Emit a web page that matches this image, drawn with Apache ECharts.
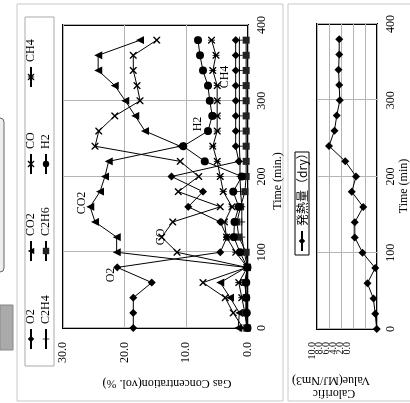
<!DOCTYPE html>
<html><head><meta charset="utf-8">
<script src="https://cdn.jsdelivr.net/npm/echarts@6/dist/echarts.min.js"></script>
<style>
html,body{margin:0;padding:0;width:410px;height:403px;overflow:hidden;background:#fff;}
#chart{position:absolute;left:0;top:0;width:403px;height:410px;transform-origin:0 0;transform:translate(0,403px) rotate(-90deg);}
</style></head><body><div id="chart"></div>
<script>
const times = [0,20,40,60,80,100,120,140,160,180,200,220,240,260,280,300,320,340,360,380];
const o2   = [18.6,18.6,18.6,15.6,21.2,4.5,3.4,4.5,9.7,7.3,12.4,1.5,2.0,2.0,2.0,2.0,2.0,2.0,2.0,2.0];
const co2  = [1.6,1.4,2.9,4.5,0.3,21.3,21.3,24.8,25.6,24.0,23.2,22.6,11.0,16.7,18.3,19.9,21.6,24.3,24.3,17.5];
const co   = [0.8,2.4,3.7,7.3,0.2,11.5,14.0,12.2,4.5,11.3,8.0,11.0,24.8,24.2,21.6,17.5,18.0,18.6,18.6,14.8];
const ch4  = [0.2,0.5,1.0,1.5,0.1,2.0,3.5,3.8,2.6,4.0,4.5,5.0,5.7,5.0,5.0,5.0,5.0,5.7,5.2,5.9];
const c2h4 = [0.1,0.2,0.3,0.5,0.1,0.6,1.0,1.0,1.0,1.2,1.3,1.3,1.4,1.4,1.4,1.4,1.4,1.4,1.4,1.4];
const c2h6 = [0.1,0.4,0.3,0.5,0.1,0.3,1.5,1.8,1.2,0.5,0.3,0.3,0.3,0.3,0.3,0.3,0.3,0.3,0.3,0.3];
const h2   = [0.1,0.2,0.3,0.3,0.1,1.3,2.3,2.2,1.5,2.4,1.0,7.0,10.5,6.5,5.8,6.2,6.5,7.3,7.8,8.1];
const calorific = [0.05,0.3,0.6,1.6,0.3,2.4,3.7,3.7,2.3,4.2,3.5,5.3,8.0,7.1,6.7,6.2,6.3,6.4,6.3,6.3];
const gasTicks = ['0.0','10.0','20.0','30.0'];
const calTicks = ['10.0','8.0','6.0','4.0','2.0','0.0'];
const timeTicks = ['0','100','200','300','400'];

const SERIF = 'Liberation Serif';
const xPath = 'path://M0,0L1.4,0L5,3.6L8.6,0L10,0L10,1.4L6.4,5L10,8.6L10,10L8.6,10L5,6.4L1.4,10L0,10L0,8.6L3.6,5L0,1.4Z';
const starPath = 'path://M0,0L1.4,0L5,3.6L8.6,0L10,0L10,1.4L6.4,5L10,8.6L10,10L8.6,10L5,6.4L1.4,10L0,10L0,8.6L3.6,5L0,1.4Z M4.4,0L5.6,0L5.6,10L4.4,10Z';
const plusPath = 'path://M4.4,0L5.6,0L5.6,4.4L10,4.4L10,5.6L5.6,5.6L5.6,10L4.4,10L4.4,5.6L0,5.6L0,4.4L4.4,4.4Z';

function mk(name, arr, symbol, size, color) {
  return {
    name, type: 'line', xAxisIndex: 0, yAxisIndex: 0,
    data: times.map((t, i) => [t, arr[i]]),
    symbol, symbolSize: size, showSymbol: true,
    lineStyle: { color: '#000', width: 1 },
    itemStyle: { color: color || '#000' },
    emphasis: { disabled: true }, animation: false
  };
}
const series = [
  mk('O2', o2, 'diamond', 8),
  mk('CO2', co2, 'triangle', 8),
  mk('CO', co, xPath, 7),
  mk('CH4', ch4, starPath, 7),
  mk('C2H4', c2h4, plusPath, 7),
  mk('C2H6', c2h6, 'rect', 7, '#222'),
  mk('H2', h2, 'circle', 8),
  {
    name: '発熱量（dry）', type: 'line', xAxisIndex: 1, yAxisIndex: 1,
    data: times.map((t, i) => [t, calorific[i]]),
    symbol: 'diamond', symbolSize: 8,
    lineStyle: { color: '#000', width: 1 }, itemStyle: { color: '#000' },
    emphasis: { disabled: true }, animation: false
  }
];

const legendPos = [
  ['O2', 53, 25], ['CO2', 141, 25], ['CO', 228, 25], ['CH4', 315, 25],
  ['C2H4', 53, 40], ['C2H6', 141, 40], ['H2', 228, 40]
];
const legends = legendPos.map(([n, l, t]) => ({
  data: [n], left: l, top: t, itemWidth: 20, itemHeight: 8, itemGap: 0, padding: 0,
  textStyle: { fontFamily: SERIF, fontSize: 12, color: '#000' }, selectedMode: false
}));
legends.push({
  data: ['発熱量（dry）'], left: 151, top: 296, itemWidth: 20, itemHeight: 8, padding: 0,
  textStyle: { fontFamily: 'Noto Sans CJK JP', fontSize: 12, color: '#000' }, selectedMode: false
});

const txt = (s, x, y, rot, size, font, align) => ({
  type: 'text', x, y, rotation: rot || 0, silent: true,
  style: { text: s, fontFamily: font || SERIF, fontSize: size || 12, fill: '#000',
           align: align || 'center', verticalAlign: 'middle' }
});
const graphics = [
  { type: 'rect', shape: { x: 2, y: 17, width: 397, height: 266 }, style: { fill: 'none', stroke: '#c8c8c8', lineWidth: 1 }, silent: true },
  { type: 'rect', shape: { x: 2, y: 288, width: 397, height: 130 }, style: { fill: 'none', stroke: '#c8c8c8', lineWidth: 1 }, silent: true },
  { type: 'rect', shape: { x: 37, y: 25, width: 349, height: 29 }, style: { fill: 'none', stroke: '#aaa', lineWidth: 1 }, silent: true },
  { type: 'rect', shape: { x: 148, y: 295, width: 103, height: 14 }, style: { fill: 'none', stroke: '#000', lineWidth: 1 }, silent: true },
  { type: 'rect', shape: { x: 131, y: -5, width: 154, height: 9, r: 4 }, style: { fill: '#eee', stroke: '#666', lineWidth: 1 }, silent: true },
  { type: 'rect', shape: { x: 53, y: 0, width: 45, height: 13 }, style: { fill: '#aaa', stroke: '#888', lineWidth: 1 }, silent: true },
  txt('Gas Concentration(vol. %)', 20, 167, Math.PI / 2),
  txt('Calorific', 10, 334, Math.PI / 2),
  txt('Value(MJ/Nm3)', 23, 331, Math.PI / 2),
  txt('Time (min.)', 222, 278),
  txt('Time (min)', 217, 404),
  txt('O2', 128, 111),
  txt('CO2', 200, 82),
  txt('CO', 166, 161),
  txt('H2', 279, 198),
  txt('CH4', 326, 225)
];
calTicks.forEach((s, i) => graphics.push(txt(s, 61, 312 + i * 7, 0, 10, SERIF, 'right')));

const axisText = { fontFamily: SERIF, fontSize: 12, color: '#000' };
const split = { show: true, lineStyle: { color: '#b4b4b4', width: 1 } };
const option = {
  backgroundColor: '#fff',
  animation: false,
  grid: [
    { left: 75, top: 63, width: 303, height: 185, show: true, borderColor: '#000', borderWidth: 2, backgroundColor: '#fff' },
    { left: 74, top: 317, width: 305, height: 60, show: true, borderColor: '#000', borderWidth: 2, backgroundColor: '#fff' }
  ],
  xAxis: [
    { type: 'value', gridIndex: 0, min: 0, max: 400, interval: 100,
      axisLine: { show: false }, axisTick: { show: false }, splitLine: split,
      axisLabel: { margin: 8, ...axisText, formatter: v => timeTicks[v / 100] } },
    { type: 'value', gridIndex: 1, min: 0, max: 400, interval: 100,
      axisLine: { show: false }, axisTick: { show: false }, splitLine: split,
      axisLabel: { margin: 8, ...axisText, formatter: v => timeTicks[v / 100] } }
  ],
  yAxis: [
    { type: 'value', gridIndex: 0, min: 0, max: 30, interval: 10,
      axisLine: { show: false }, axisTick: { show: false }, splitLine: split,
      axisLabel: { margin: 14, ...axisText, formatter: v => gasTicks[v / 10] } },
    { type: 'value', gridIndex: 1, min: 0, max: 10, interval: 2,
      axisLine: { show: false }, axisTick: { show: false }, splitLine: split,
      axisLabel: { show: false } }
  ],
  legend: legends,
  series,
  graphic: graphics
};
const chart = echarts.init(document.getElementById('chart'), null, { renderer: 'canvas', width: 403, height: 410 });
chart.setOption(option);
</script></body></html>
